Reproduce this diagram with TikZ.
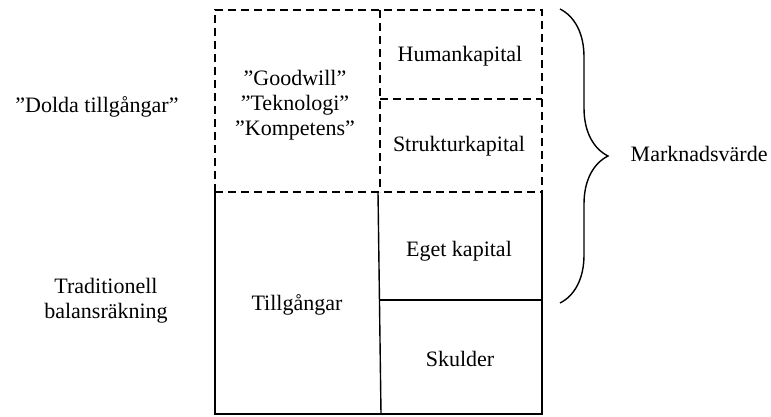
\documentclass[tikz,border=0pt]{standalone}
\usepackage{fontspec}
\setmainfont{Liberation Serif}
\usetikzlibrary{decorations.pathreplacing}

\begin{document}
\begin{tikzpicture}[x=1pt, y=-1pt, line width=1.4pt,
  dashline/.style={dash pattern=on 8pt off 5pt},
  txt/.style={font=\fontsize{22}{25}\selectfont, align=center, inner sep=0pt}]
\useasboundingbox (0,0) rectangle (771,416);

% Draw the dashed part (hidden assets)
\draw[dashline] (215,192) -- (215,10) -- (542,10) -- (542,192);
\draw[dashline] (380,10) -- (380,192);
\draw[dashline] (380,99) -- (542,99);
\draw[dashline] (215,192) -- (542,192);

% Draw the solid part (balance sheet)
\draw (215,192) -- (215,414) -- (542,414) -- (542,192);
\draw (378,192) -- (381,414);
\draw (379,300) -- (542,300);

% Insert the texts in the cells
\node[txt] (goodwill) at (295,105) {”Goodwill”\\”Teknologi”\\”Kompetens”};
\node[txt] (human) at (460,56) {Humankapital};
\node[txt] (struktur) at (459,146) {Strukturkapital};
\node[txt] (eget) at (459,251) {Eget kapital};
\node[txt] (skulder) at (460,359) {Skulder};
\node[txt] (tillg) at (297,305) {Tillgångar};

% Texts on the left side
\node[txt] (dolda) at (97,107) {”Dolda tillgångar”};
\node[txt] (trad) at (106,301) {Traditionell\\balansräkning};

% Brace and market value
\coordinate (bracetop) at (560,9);
\coordinate (bracebot) at (560,303);
\draw[decorate, decoration={brace, amplitude=48pt}] (bracetop) -- (bracebot);
\node[txt, anchor=west] (marknad) at (630,154) {Marknadsvärde};
\end{tikzpicture}
\end{document}
